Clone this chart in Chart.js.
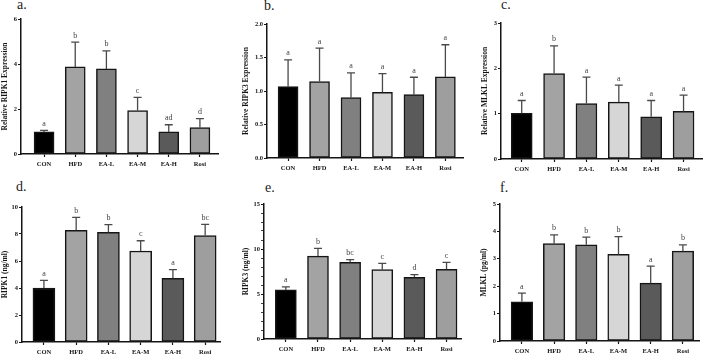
<!DOCTYPE html>
<html>
<head>
<meta charset="utf-8">
<script src="https://cdn.jsdelivr.net/npm/chart.js@4"></script>
<style>
  body { margin: 0; background: #fff; width: 709px; height: 355px; position: relative; overflow: hidden; }
  canvas { position: absolute; }
  .lbl { position: absolute; font: 14px "Liberation Serif", serif; color: #222; line-height: 14px; }
</style>
</head>
<body>
<div class="lbl" style="left:17px;top:-2px">a.</div>
<div class="lbl" style="left:264px;top:-1px">b.</div>
<div class="lbl" style="left:501px;top:-2px">c.</div>
<div class="lbl" style="left:16px;top:180px">d.</div>
<div class="lbl" style="left:265px;top:181px">e.</div>
<div class="lbl" style="left:500px;top:181px">f.</div>
<script>
// groups
const groups = ['CON', 'HFD', 'EA-L', 'EA-M', 'EA-H', 'Rosi'];

// a. relative RIPK1
const relRipk1 = [0.98, 3.87, 3.78, 1.93, 0.98, 1.17];
const relRipk1Sd = [0.07, 1.10, 0.80, 0.59, 0.32, 0.40];
const relRipk1Sig = ['a', 'b', 'b', 'c', 'ad', 'd'];

// b. relative RIPK3
const relRipk3 = [1.065, 1.14, 0.90, 0.98, 0.945, 1.21];
const relRipk3Sd = [0.40, 0.50, 0.37, 0.28, 0.26, 0.48];
const relRipk3Sig = ['a', 'a', 'a', 'a', 'a', 'a'];

// c. relative MLKL
const relMlkl = [1.01, 1.885, 1.225, 1.255, 0.93, 1.05];
const relMlklSd = [0.28, 0.61, 0.58, 0.375, 0.36, 0.36];
const relMlklSig = ['a', 'b', 'a', 'a', 'a', 'a'];

// d. RIPK1 ng/ml
const ripk1 = [4.0, 8.27, 8.12, 6.74, 4.72, 7.88];
const ripk1Sd = [0.57, 0.96, 0.57, 0.76, 0.64, 0.84];
const ripk1Sig = ['a', 'b', 'b', 'c', 'a', 'bc'];

// e. RIPK3 ng/ml
const ripk3 = [5.45, 9.21, 8.51, 7.70, 6.86, 7.74];
const ripk3Sd = [0.34, 0.85, 0.30, 0.70, 0.29, 0.77];
const ripk3Sig = ['a', 'b', 'bc', 'c', 'd', 'c'];

// f. MLKL pg/ml
const mlkl = [1.43, 3.56, 3.51, 3.16, 2.11, 3.28];
const mlklSd = [0.32, 0.31, 0.28, 0.65, 0.62, 0.23];
const mlklSig = ['a', 'b', 'b', 'b', 'a', 'b'];

// y axis ranges (max, step)
const yMaxes = [6, 2, 3, 10, 15, 5];
const ySteps = [2, 0.5, 1, 2, 1, 1];

const barColors = ['#000000', '#a3a3a3', '#808080', '#d6d6d6', '#5a5a5a', '#9e9e9e'];
const ink = '#151515';

// error bars + significance letters
const errLetters = {
    id: 'errLetters',
    afterDatasetsDraw(chart, args, opts) {
        const { ctx } = chart;
        const x = chart.scales.x, y = chart.scales.y;
        const pts = chart.data.datasets[0].data;
        ctx.save();
        pts.forEach((pt, i) => {
            const px = x.getPixelForValue(pt.x);
            const y0 = y.getPixelForValue(pt.y);
            const y1 = y.getPixelForValue(pt.y + opts.sd[i]);
            ctx.strokeStyle = '#4a4a4a';
            ctx.lineWidth = 1.3;
            ctx.beginPath();
            ctx.moveTo(px, y0);
            ctx.lineTo(px, y1);
            ctx.moveTo(px - 4, y1);
            ctx.lineTo(px + 4, y1);
            ctx.stroke();
            ctx.fillStyle = '#444';
            ctx.font = '8px "Liberation Serif", serif';
            ctx.textAlign = 'center';
            ctx.textBaseline = 'alphabetic';
            ctx.fillText(opts.sig[i], px, y1 - 4.5);
        });
        ctx.restore();
    }
};

const panels = [
    { ox: 0, oy: 0, w: 236, h: 177, L: 21, R: 218, T: 19, B: 154, xmin: -0.74, xmax: 5.58, barW: 20, tp: 1,
      vals: relRipk1, sd: relRipk1Sd, sig: relRipk1Sig, title: 'Relative RIPK1 Expression' },
    { ox: 236, oy: 0, w: 236, h: 177, L: 267, R: 463, T: 24, B: 158, xmin: -0.67, xmax: 5.56, barW: 20, tp: 5.5,
      vals: relRipk3, sd: relRipk3Sd, sig: relRipk3Sig, title: 'Relative RIPK3 Expression', dec: 1 },
    { ox: 472, oy: 0, w: 237, h: 177, L: 501, R: 702, T: 23, B: 159, xmin: -0.64, xmax: 5.57, barW: 21, tp: 8.5,
      vals: relMlkl, sd: relMlklSd, sig: relMlklSig, title: 'Relative MLKL Expression' },
    { ox: 0, oy: 177, w: 236, h: 178, L: 22, R: 220, T: 207, B: 342, xmin: -0.68, xmax: 5.46, barW: 22, tp: 1,
      vals: ripk1, sd: ripk1Sd, sig: ripk1Sig, title: 'RIPK1 (ng/ml)' },
    { ox: 236, oy: 177, w: 236, h: 178, L: 264, R: 461, T: 204, B: 339, xmin: -0.68, xmax: 5.45, barW: 21, tp: 5.5,
      vals: ripk3, sd: ripk3Sd, sig: ripk3Sig, title: 'RIPK3 (ng/ml)', every: 5 },
    { ox: 472, oy: 177, w: 237, h: 178, L: 500, R: 699, T: 204, B: 341, xmin: -0.68, xmax: 5.5, barW: 21.5, tp: 7.5,
      vals: mlkl, sd: mlklSd, sig: mlklSig, title: 'MLKL (pg/ml)' }
];

const tickFont = { family: 'Liberation Serif', weight: 'bold', size: 6.5 };

panels.forEach((p, k) => {
    const cv = document.createElement('canvas');
    cv.width = p.w;
    cv.height = p.h;
    cv.style.left = p.ox + 'px';
    cv.style.top = p.oy + 'px';
    document.body.appendChild(cv);

    new Chart(cv, {
        type: 'bar',
        data: {
            datasets: [{
                data: p.vals.map((v, i) => ({ x: i, y: v })),
                backgroundColor: barColors,
                borderColor: ink,
                borderWidth: 1.5,
                borderSkipped: false,
                barThickness: p.barW
            }]
        },
        plugins: [errLetters],
        options: {
            responsive: false,
            animation: false,
            layout: { padding: { left: 0, bottom: 0, top: p.T - p.oy, right: p.ox + p.w - p.R } },
            plugins: {
                legend: { display: false },
                tooltip: { enabled: false },
                errLetters: { sd: p.sd, sig: p.sig }
            },
            scales: {
                x: {
                    type: 'linear',
                    min: p.xmin,
                    max: p.xmax,
                    offset: false,
                    grid: { display: true, drawOnChartArea: false, drawTicks: true, tickLength: 3, tickColor: ink, tickWidth: 1.2, offset: false },
                    border: { display: true, color: ink, width: 1.5 },
                    ticks: {
                        stepSize: 1, includeBounds: false, autoSkip: false, maxRotation: 0, padding: 3,
                        color: ink, font: tickFont,
                        callback: v => groups[v] ?? ''
                    },
                    afterFit: s => { s.height = p.oy + p.h - p.B; }
                },
                y: {
                    min: 0,
                    max: yMaxes[k],
                    grid: { display: true, drawOnChartArea: false, drawTicks: true, tickLength: 3, tickColor: ink,
                            tickWidth: c => (p.every && c.tick && c.tick.value % p.every) ? 0.8 : 1.2 },
                    border: { display: true, color: ink, width: 1.5 },
                    ticks: {
                        stepSize: ySteps[k], autoSkip: false, padding: 1, color: ink, font: tickFont,
                        callback: v => {
                            if (p.every && v % p.every) return '';
                            return p.dec ? v.toFixed(p.dec) : v;
                        }
                    },
                    title: {
                        display: true, text: p.title, color: ink,
                        font: { family: 'Liberation Serif', weight: 'bold', size: 7.5 },
                        padding: { top: p.tp, bottom: 0 }
                    },
                    afterFit: s => { s.width = p.L - p.ox; }
                }
            }
        }
    });
});
</script>
</body>
</html>
